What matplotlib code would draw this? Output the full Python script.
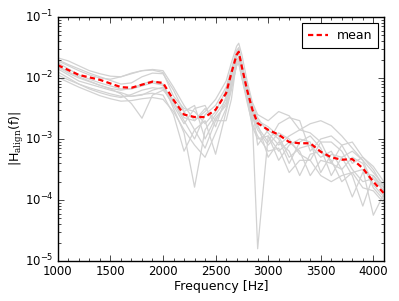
import numpy as np
import matplotlib
matplotlib.use("Agg")
import matplotlib.pyplot as plt
from matplotlib.ticker import AutoMinorLocator

# frequency grid [Hz]
freq = [1000, 1100, 1200, 1300, 1400, 1500, 1600, 1700, 1800, 1900, 2000,
        2100, 2200, 2300, 2400, 2500, 2600, 2650, 2700, 2720, 2750, 2800,
        2850, 2900, 3000, 3100, 3200, 3300, 3400, 3500, 3600, 3700, 3800,
        3900, 4000, 4100]

# log10 |H_align(f)| of the mean
mean_log = [-1.79, -1.87, -1.95, -1.99, -2.03, -2.09, -2.15, -2.16, -2.11, -2.06,
            -2.08, -2.36, -2.60, -2.64, -2.64, -2.52, -2.25, -1.92, -1.62, -1.57,
            -1.82, -2.20, -2.52, -2.74, -2.85, -2.93, -3.05, -3.07, -3.07, -3.21,
            -3.30, -3.34, -3.33, -3.48, -3.70, -3.89]

# log10 |H_align(f)| of the individual measurements
g1 = [-1.67, -1.72, -1.80, -1.88, -1.93, -1.97, -1.98, -1.93, -1.88, -1.86, -1.88, -2.15,
      -2.45, -2.70, -2.55, -2.35, -2.05, -1.75, -1.48, -1.43, -1.62, -2.05, -2.40, -2.60,
      -2.70, -2.55, -2.62, -2.85, -2.75, -2.70, -2.78, -2.95, -3.15, -3.35, -3.55, -3.75]
g2 = [-1.70, -1.78, -1.85, -1.92, -1.98, -2.04, -2.10, -2.08, -1.98, -1.92, -1.93, -2.20,
      -2.55, -2.85, -3.15, -2.70, -2.40, -2.00, -1.55, -1.50, -1.75, -2.25, -2.60, -2.80,
      -3.05, -2.75, -2.65, -2.70, -3.20, -3.00, -2.95, -3.10, -3.40, -3.30, -3.45, -3.70]
g3 = [-1.90, -2.00, -2.10, -2.18, -2.24, -2.29, -2.32, -2.27, -2.20, -2.16, -2.18, -2.45,
      -2.75, -2.50, -2.45, -2.80, -2.30, -1.95, -1.65, -1.60, -1.85, -2.15, -2.50, -3.10,
      -2.85, -3.00, -3.40, -3.05, -2.95, -3.15, -3.60, -3.30, -3.20, -3.35, -3.75, -3.95]
g4 = [-1.80, -1.90, -1.98, -2.05, -2.12, -2.18, -2.26, -2.42, -2.66, -2.28, -2.20, -2.35,
      -2.55, -2.45, -3.00, -2.65, -2.45, -2.10, -1.70, -1.66, -1.90, -2.30, -2.65, -2.85,
      -3.10, -2.90, -3.00, -3.25, -3.35, -3.05, -3.05, -3.20, -3.50, -3.70, -3.65, -3.85]
g5 = [-1.75, -1.85, -1.95, -2.02, -2.08, -2.13, -2.18, -2.18, -2.13, -2.08, -2.12, -2.40,
      -2.70, -3.00, -2.60, -2.45, -2.15, -1.85, -1.55, -1.52, -1.80, -2.25, -2.70, -4.80,
      -2.95, -3.20, -3.05, -3.20, -3.60, -3.35, -3.40, -3.50, -3.30, -3.40, -3.80, -4.00]
g6 = [-1.82, -1.92, -2.00, -2.06, -2.12, -2.17, -2.20, -2.17, -2.10, -2.05, -2.10, -2.50,
      -2.90, -3.79, -2.85, -2.60, -2.35, -2.05, -1.75, -1.72, -1.95, -2.35, -2.80, -3.00,
      -2.95, -3.35, -3.10, -3.00, -3.05, -3.55, -3.25, -3.30, -3.60, -4.10, -3.60, -3.80]
g7 = [-1.95, -2.03, -2.10, -2.16, -2.21, -2.26, -2.30, -2.30, -2.27, -2.25, -2.28, -2.60,
      -3.20, -2.85, -2.70, -3.25, -2.55, -2.20, -1.78, -1.75, -2.00, -2.35, -2.55, -2.75,
      -3.30, -3.05, -3.20, -3.60, -3.25, -3.20, -3.35, -3.70, -3.55, -3.50, -4.25, -3.90]
g8 = [-1.99, -2.07, -2.15, -2.22, -2.29, -2.34, -2.38, -2.37, -2.34, -2.32, -2.35, -2.55,
      -2.85, -3.10, -3.30, -2.90, -2.50, -2.15, -1.80, -1.76, -2.00, -2.40, -2.75, -2.95,
      -3.20, -3.15, -3.55, -3.35, -3.35, -3.60, -3.70, -3.60, -3.55, -3.80, -3.85, -4.05]
g9 = [-1.72, -1.80, -1.88, -1.95, -2.00, -2.02, -1.98, -1.92, -1.88, -1.87, -1.91, -2.30,
      -2.50, -2.55, -2.75, -2.55, -2.20, -1.90, -1.58, -1.55, -1.78, -2.15, -2.45, -2.65,
      -2.90, -3.10, -2.95, -2.85, -2.90, -3.05, -3.40, -3.10, -3.05, -3.30, -3.50, -3.80]
g10 = [-1.85, -1.95, -2.05, -2.10, -2.15, -2.20, -2.24, -2.30, -2.28, -2.20, -2.15, -2.40,
       -2.65, -2.70, -2.50, -2.70, -2.70, -2.35, -1.72, -1.68, -1.85, -2.15, -2.50, -2.70,
       -2.80, -2.95, -3.30, -3.15, -3.10, -3.30, -3.20, -3.50, -3.95, -3.55, -3.60, -3.85]
gray_curves = [g1, g2, g3, g4, g5, g6, g7, g8, g9, g10]

plt.style.use("classic")
plt.rcParams["mathtext.fontset"] = "custom"
plt.rcParams["mathtext.rm"] = "DejaVu Serif"
plt.rcParams["font.family"] = "DejaVu Sans"

fig = plt.figure(figsize=(3.99, 3.01), dpi=100, facecolor="white")
ax = fig.add_axes([0.145, 0.133, 0.817, 0.8105])

f = np.array(freq)
for g in gray_curves:
    ax.plot(f, 10 ** np.array(g), color="#d2d2d2", lw=0.9)
ax.plot(f, 10 ** np.array(mean_log), color="red", lw=1.6, ls="--",
        dashes=(3.8, 2.4), label="mean")

ax.set_yscale("log")
ax.set_xlim(1000, 4100)
ax.set_ylim(1e-5, 1e-1)
ax.xaxis.set_minor_locator(AutoMinorLocator(5))
ax.tick_params(labelsize=8.5, pad=3)
ax.tick_params(which="major", length=4)
ax.tick_params(which="minor", length=2)
ax.set_xlabel("Frequency [Hz]", fontsize=9, labelpad=1)
ax.set_ylabel(r"|H$_{\rm align}$(f)|", fontsize=9, labelpad=-1)
leg = ax.legend(loc="upper right", fontsize=9, fancybox=False, handlelength=1.6,
                handletextpad=0.7, borderpad=0.45, numpoints=1)
leg.get_frame().set_linewidth(0.8)

fig.savefig("out.png", dpi=100, facecolor="white")
